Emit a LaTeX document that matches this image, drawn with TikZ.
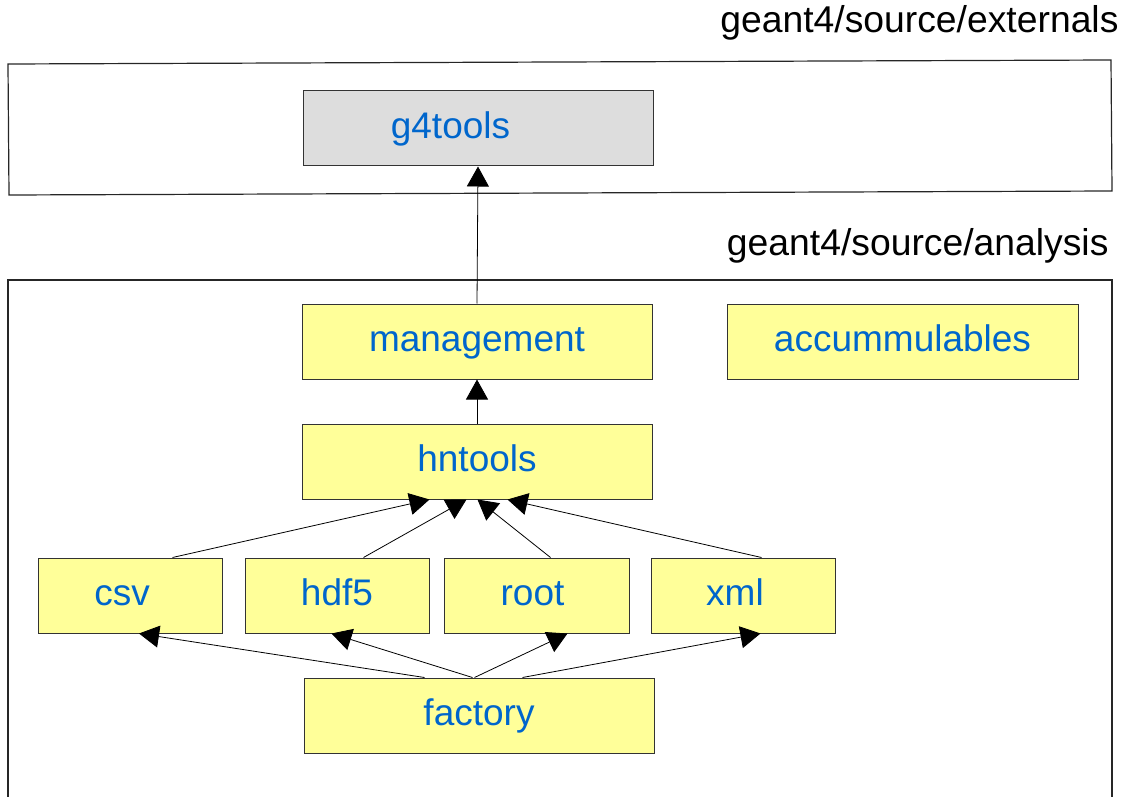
\documentclass[tikz,border=0pt]{standalone}
\usepackage{fontspec}
\setmainfont{Liberation Sans}
\usetikzlibrary{arrows.meta}
\definecolor{pkgyellow}{HTML}{FFFF99}
\definecolor{pkggray}{HTML}{DDDDDD}
\definecolor{pkgblue}{HTML}{0066CC}
\begin{document}
\begin{tikzpicture}[x=1pt,y=-1pt,
  pkg/.style={draw=black!80,line width=1pt,fill=pkgyellow,text=pkgblue,
    minimum width=350pt,minimum height=75pt,inner sep=0pt,
    text height=22pt,text depth=2pt,font=\fontsize{37}{42}\selectfont},
  smallpkg/.style={pkg,minimum width=184pt},
  dep/.style={-{Triangle[length=20pt,width=22pt]},line width=0.8pt},
  dirlabel/.style={anchor=base east,font=\fontsize{37.3}{42}\selectfont}]
\useasboundingbox (0,0) rectangle (1122,797);
\draw[black!85,line width=1.2pt] (8,64) -- (1111,60) -- (1112,191) -- (9,195) -- cycle;
\draw[black!85,line width=1.2pt] (8,800) -- (8,280) -- (1112,280) -- (1112,800);
\node[dirlabel] (externals) at (1122,33) {geant4/source/externals};
\node[dirlabel] (analysis) at (1112,255) {geant4/source/analysis};
\node[pkg,fill=pkggray] (g4tools) at (478,128.5) {\hspace*{-55pt}g4tools};
\node[pkg] (management) at (477,341.5) {management};
\node[pkg,minimum width=351pt] (accum) at (902.5,341.5) {accummulables};
\node[pkg] (hntools) at (477,461.5) {hntools};
\node[smallpkg] (csv) at (130,595.5) {\hspace*{-16pt}csv};
\node[smallpkg] (hdf5) at (337,595.5) {hdf5};
\node[smallpkg,minimum width=185pt] (root) at (536.5,595.5) {\hspace*{-8pt}root};
\node[smallpkg] (xml) at (743,595.5) {\hspace*{-16pt}xml};
\node[pkg] (factory) at (479,715.5) {factory};
\draw[dep] (management.north) -- (g4tools.south);
\draw[dep] (hntools.north) -- (management.south);
\draw[dep] ([xshift=135pt]csv.north west) -- ([xshift=128pt]hntools.south west);
\draw[dep] ([xshift=119pt]hdf5.north west) -- ([xshift=165pt]hntools.south west);
\draw[dep] ([xshift=107pt]root.north west) -- ([xshift=176pt]hntools.south west);
\draw[dep] ([xshift=111pt]xml.north west) -- ([xshift=206pt]hntools.south west);
\draw[dep] ([xshift=121pt]factory.north west) -- ([xshift=101.5pt]csv.south west);
\draw[dep] ([xshift=169pt]factory.north west) -- ([xshift=87pt]hdf5.south west);
\draw[dep] ([xshift=171pt]factory.north west) -- ([xshift=124pt]root.south west);
\draw[dep] ([xshift=219pt]factory.north west) -- ([xshift=110pt]xml.south west);
\end{tikzpicture}
\end{document}
